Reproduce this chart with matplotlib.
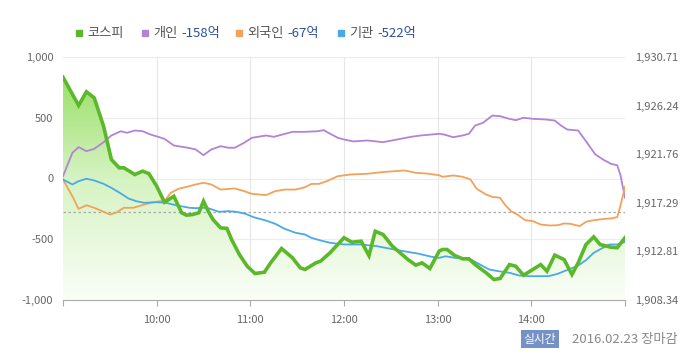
import numpy as np
import matplotlib
matplotlib.use("Agg")
import matplotlib.pyplot as plt
from matplotlib.colors import LinearSegmentedColormap
from matplotlib.patches import Rectangle

plt.rcParams['font.family'] = ['Noto Sans CJK KR', 'DejaVu Sans']

# ---------------------------------------------------------------
# data (minutes after 09:00)
# ---------------------------------------------------------------
kospi_min = [0, 10, 15, 20, 26, 31, 36, 39, 46, 51, 55, 60, 65, 71, 76, 79, 83, 87, 90, 93,
             96, 101, 105, 108, 113, 118, 123, 129, 133, 140, 147, 152, 155, 162, 165, 171,
             180, 185, 191, 196, 200, 205, 211, 221, 226, 230, 235, 241, 243, 246, 251, 256,
             260, 264, 271, 276, 280, 286, 290, 295, 301, 306, 310, 315, 321, 326, 330, 335,
             340, 344, 351, 355, 360]
kospi_val = [1928.85, 1926.25, 1927.51, 1926.95, 1924.33, 1921.27, 1920.51, 1920.51, 1919.89,
             1920.20, 1919.98, 1918.82, 1917.34, 1917.89, 1916.37, 1916.15, 1916.21, 1916.37,
             1917.43, 1916.52, 1915.76, 1914.98, 1914.93, 1913.91, 1912.52, 1911.45, 1910.78,
             1910.90, 1911.76, 1913.08, 1912.22, 1911.30, 1911.15, 1911.76, 1911.92, 1912.68,
             1914.07, 1913.66, 1913.75, 1912.43, 1914.67, 1914.37, 1913.29, 1912.06, 1911.55,
             1911.76, 1911.24, 1912.84, 1912.99, 1912.99, 1912.43, 1912.13, 1912.13, 1911.60,
             1910.85, 1910.23, 1910.32, 1911.60, 1911.45, 1910.62, 1911.15, 1911.60, 1910.99,
             1912.47, 1912.06, 1910.69, 1911.76, 1913.45, 1914.15, 1913.45, 1913.20, 1913.15,
             1914.07]
kospi_prev_close = 1916.44

indiv_min = [0, 6, 10, 15, 20, 26, 31, 37, 41, 46, 51, 56, 61, 65, 71, 76, 80, 85, 90, 95,
             101, 106, 110, 116, 121, 130, 135, 140, 147, 155, 163, 167, 170, 176, 180, 186,
             195, 205, 214, 223, 229, 236, 241, 244, 250, 256, 260, 264, 269, 275, 280, 285,
             290, 295, 301, 309, 315, 319, 323, 330, 335, 341, 346, 351, 355, 357, 360]
indiv_val = [19, 211, 258, 225, 244, 299, 354, 389, 376, 395, 389, 362, 343, 326, 272, 261,
             253, 239, 192, 239, 266, 253, 253, 294, 335, 354, 343, 360, 384, 384, 389, 398,
             376, 335, 321, 305, 313, 299, 321, 343, 354, 362, 368, 362, 340, 354, 368, 436,
             458, 518, 513, 494, 480, 500, 491, 486, 477, 436, 403, 395, 307, 198, 156, 121,
             109, 33, -158]

foreign_min = [0, 6, 10, 15, 20, 26, 30, 34, 39, 45, 50, 56, 62, 65, 69, 74, 81, 85, 90, 95,
               101, 110, 116, 121, 130, 136, 142, 149, 155, 159, 164, 169, 176, 184, 195, 204,
               212, 219, 226, 233, 241, 243, 250, 256, 261, 265, 271, 275, 280, 283, 287, 291,
               296, 301, 306, 312, 317, 321, 325, 331, 335, 340, 347, 351, 355, 357, 360]
foreign_val = [-8, -146, -250, -220, -241, -274, -296, -282, -241, -241, -222, -200, -187,
               -187, -118, -85, -63, -49, -35, -49, -91, -82, -104, -126, -137, -104, -91, -91,
               -72, -45, -44, -22, 19, 33, 39, 52, 60, 66, 47, 41, 27, 14, 25, 14, -8, -85,
               -132, -151, -159, -214, -269, -296, -343, -351, -379, -387, -384, -370, -373,
               -392, -356, -343, -332, -329, -318, -228, -67]

inst_min = [0, 6, 10, 15, 20, 26, 31, 37, 42, 47, 52, 60, 66, 73, 81, 85, 92, 100, 106, 111,
            117, 122, 130, 136, 142, 149, 155, 159, 165, 171, 180, 191, 201, 210, 218, 227,
            236, 241, 245, 251, 260, 266, 273, 279, 286, 292, 299, 305, 311, 317, 321, 324,
            330, 335, 340, 345, 350, 355, 360]
inst_val = [-8, -49, -22, -2, -16, -44, -77, -123, -165, -187, -200, -195, -200, -222, -241,
            -244, -241, -274, -269, -274, -291, -318, -346, -373, -414, -447, -461, -488, -510,
            -529, -543, -543, -557, -579, -598, -617, -644, -653, -640, -653, -658, -700, -749,
            -763, -776, -798, -804, -804, -804, -784, -763, -749, -716, -672, -612, -576, -543,
            -543, -522]

left_ticks = [-1000, -500, 0, 500, 1000]
left_labels = ['-1,000', '-500', '0', '500', '1,000']
right_labels = ['1,908.34', '1,912.81', '1,917.29', '1,921.76', '1,926.24', '1,930.71']
hour_ticks = [0, 60, 120, 180, 240, 300, 360]
hour_labels = ['', '10:00', '11:00', '12:00', '13:00', '14:00', '']

legend_names = ['코스피', '개인', '외국인', '기관']
legend_amounts = ['', '-158억', '-67억', '-522억']

# ---------------------------------------------------------------
C_KOSPI = '#5ab82a'
C_INDIV = '#b283d6'
C_FOREIGN = '#f2a25a'
C_INST = '#4aa9e6'
C_TEXT = '#666666'

K_MIN, K_MAX = 1908.34, 1930.71


def to_left(k):
    # map KOSPI values onto the left (-1000..1000) scale
    k = np.asarray(k, dtype=float)
    return (k - K_MIN) / (K_MAX - K_MIN) * 2000 - 1000


fig = plt.figure(figsize=(7, 3.62), dpi=100)
ax = fig.add_axes([63 / 700, 1 - 300 / 362, 562 / 700, 243 / 362])
ax.set_xlim(0, 360)
ax.set_ylim(-1000, 1000)

# grid
for v in [-500, 0, 500, 1000]:
    ax.axhline(v, color='#ececec', lw=0.8, zorder=0)
for m in hour_ticks[1:-1]:
    ax.axvline(m, color='#e6e6e6', lw=0.8, zorder=0)

# kospi gradient area
kx = np.array(kospi_min, dtype=float)
ky = to_left(kospi_val)
poly = ax.fill_between(kx, ky, -1000, color='none', lw=0)
cmap = LinearSegmentedColormap.from_list('g', ['#fafef7', '#d6f3c2', '#8fdc58'])
grad = np.linspace(0, 1, 256).reshape(-1, 1)
im = ax.imshow(grad, extent=[0, 360, -1000, 1000], origin='lower', aspect='auto',
               cmap=cmap, zorder=1)
im.set_clip_path(poly.get_paths()[0], transform=ax.transData)

# previous close dashed line
ax.axhline(float(to_left(kospi_prev_close)), color='#aaaaaa', lw=0.9,
           ls=(0, (2, 2)), zorder=2)

ax.plot(indiv_min, indiv_val, color=C_INDIV, lw=1.3, zorder=3)
ax.plot(foreign_min, foreign_val, color=C_FOREIGN, lw=1.3, zorder=3)
ax.plot(inst_min, inst_val, color=C_INST, lw=1.3, zorder=3)
ax.plot(kx, ky, color=C_KOSPI, lw=2.6, zorder=4, solid_joinstyle='miter')

# axes styling
for s in ['top', 'right', 'left']:
    ax.spines[s].set_visible(False)
ax.spines['bottom'].set_color('#aaaaaa')
ax.set_xticks(hour_ticks)
ax.set_xticklabels(hour_labels, fontsize=8, color=C_TEXT)
ax.tick_params(axis='x', length=4, color='#aaaaaa', pad=7)
ax.set_yticks(left_ticks)
ax.set_yticklabels(left_labels, fontsize=8, color=C_TEXT)
ax.tick_params(axis='y', length=0, pad=7)

ax2 = ax.twinx()
ax2.set_ylim(K_MIN, K_MAX)
ax2.set_yticks(np.linspace(K_MIN, K_MAX, 6))
ax2.set_yticklabels(right_labels, fontsize=8, color=C_TEXT)
ax2.tick_params(axis='y', length=0, pad=7)
for s in ax2.spines.values():
    s.set_visible(False)

# legend
colors = [C_KOSPI, C_INDIV, C_FOREIGN, C_INST]
sq_x = [76, 142, 236, 338]
ly = 1 - 33 / 362
for name, amt, c, x in zip(legend_names, legend_amounts, colors, sq_x):
    fig.patches.append(Rectangle((x / 700, ly - 3 / 362), 6 / 700, 6 / 362,
                                 transform=fig.transFigure, color=c))
    t = fig.text((x + 11) / 700, ly, name, fontsize=9.5, color='#555555', va='center')
    if amt:
        fig.canvas.draw()
        bb = t.get_window_extent()
        fig.text(bb.x1 / 700 + 4 / 700, ly, amt, fontsize=9.5, color='#2c4fa0',
                 va='center')

# bottom-right status
fig.text(540 / 700, 1 - 339 / 362, '실시간', fontsize=8.5, color='white', ha='center',
         va='center', bbox=dict(boxstyle='square,pad=0.25', fc='#7591c6', ec='none'))
fig.text(572 / 700, 1 - 339 / 362, '2016.02.23 장마감', fontsize=9.5, color='#888888',
         va='center')

fig.savefig('out.png', dpi=100)
